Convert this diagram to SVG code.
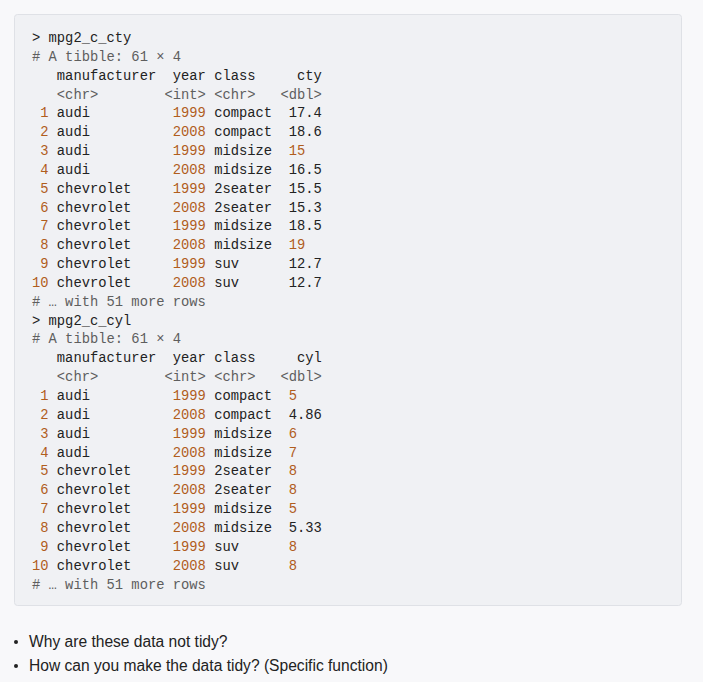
<svg xmlns="http://www.w3.org/2000/svg" width="703" height="682" viewBox="0 0 703 682">
<style>
.m{font-family:"Liberation Mono","DejaVu Sans Mono",monospace;font-size:13.8px;fill:#222;white-space:pre}
.g{fill:#5e5e5e}
.o{fill:#b05d1d}
.s{font-family:"Liberation Sans",Arial,sans-serif;font-size:15.6px;fill:#222}
</style>
<rect width="703" height="682" fill="#f8f8fa"/>
<g id="codeblock">
<rect x="14.5" y="14.5" width="667" height="591" rx="3" fill="#f0f1f4" stroke="#dfe1e6"/>
<g id="out1" xml:space="preserve">
<text class="m" x="32" y="42">&gt; mpg2_c_cty</text>
<text class="m g" x="32" y="61"># A tibble: 61 × 4</text>
<text class="m" x="32" y="80">   manufacturer  year class     cty</text>
<text class="m g" x="32" y="99">   &lt;chr&gt;        &lt;int&gt; &lt;chr&gt;   &lt;dbl&gt;</text>
<text class="m" x="32" y="117"><tspan class="o"> 1</tspan> audi          <tspan class="o">1999</tspan> compact  17.4</text>
<text class="m" x="32" y="136"><tspan class="o"> 2</tspan> audi          <tspan class="o">2008</tspan> compact  18.6</text>
<text class="m" x="32" y="155"><tspan class="o"> 3</tspan> audi          <tspan class="o">1999</tspan> midsize  <tspan class="o">15</tspan></text>
<text class="m" x="32" y="174"><tspan class="o"> 4</tspan> audi          <tspan class="o">2008</tspan> midsize  16.5</text>
<text class="m" x="32" y="193"><tspan class="o"> 5</tspan> chevrolet     <tspan class="o">1999</tspan> 2seater  15.5</text>
<text class="m" x="32" y="212"><tspan class="o"> 6</tspan> chevrolet     <tspan class="o">2008</tspan> 2seater  15.3</text>
<text class="m" x="32" y="230"><tspan class="o"> 7</tspan> chevrolet     <tspan class="o">1999</tspan> midsize  18.5</text>
<text class="m" x="32" y="249"><tspan class="o"> 8</tspan> chevrolet     <tspan class="o">2008</tspan> midsize  <tspan class="o">19</tspan></text>
<text class="m" x="32" y="268"><tspan class="o"> 9</tspan> chevrolet     <tspan class="o">1999</tspan> suv      12.7</text>
<text class="m" x="32" y="287"><tspan class="o">10</tspan> chevrolet     <tspan class="o">2008</tspan> suv      12.7</text>
<text class="m g" x="32" y="306"># … with 51 more rows</text>
</g>
<g id="out2" xml:space="preserve">
<text class="m" x="32" y="325">&gt; mpg2_c_cyl</text>
<text class="m g" x="32" y="343"># A tibble: 61 × 4</text>
<text class="m" x="32" y="362">   manufacturer  year class     cyl</text>
<text class="m g" x="32" y="381">   &lt;chr&gt;        &lt;int&gt; &lt;chr&gt;   &lt;dbl&gt;</text>
<text class="m" x="32" y="400"><tspan class="o"> 1</tspan> audi          <tspan class="o">1999</tspan> compact  <tspan class="o">5</tspan></text>
<text class="m" x="32" y="419"><tspan class="o"> 2</tspan> audi          <tspan class="o">2008</tspan> compact  4.86</text>
<text class="m" x="32" y="438"><tspan class="o"> 3</tspan> audi          <tspan class="o">1999</tspan> midsize  <tspan class="o">6</tspan></text>
<text class="m" x="32" y="457"><tspan class="o"> 4</tspan> audi          <tspan class="o">2008</tspan> midsize  <tspan class="o">7</tspan></text>
<text class="m" x="32" y="475"><tspan class="o"> 5</tspan> chevrolet     <tspan class="o">1999</tspan> 2seater  <tspan class="o">8</tspan></text>
<text class="m" x="32" y="494"><tspan class="o"> 6</tspan> chevrolet     <tspan class="o">2008</tspan> 2seater  <tspan class="o">8</tspan></text>
<text class="m" x="32" y="513"><tspan class="o"> 7</tspan> chevrolet     <tspan class="o">1999</tspan> midsize  <tspan class="o">5</tspan></text>
<text class="m" x="32" y="532"><tspan class="o"> 8</tspan> chevrolet     <tspan class="o">2008</tspan> midsize  5.33</text>
<text class="m" x="32" y="551"><tspan class="o"> 9</tspan> chevrolet     <tspan class="o">1999</tspan> suv      <tspan class="o">8</tspan></text>
<text class="m" x="32" y="570"><tspan class="o">10</tspan> chevrolet     <tspan class="o">2008</tspan> suv      <tspan class="o">8</tspan></text>
<text class="m g" x="32" y="589"># … with 51 more rows</text>
</g>
</g>
<g id="bullets">
<circle cx="16" cy="642" r="2" fill="#222"/>
<text class="s" x="29" y="647">Why are these data not tidy?</text>
<circle cx="16" cy="666" r="2" fill="#222"/>
<text class="s" x="29" y="671">How can you make the data tidy? (Specific function)</text>
</g>
</svg>
